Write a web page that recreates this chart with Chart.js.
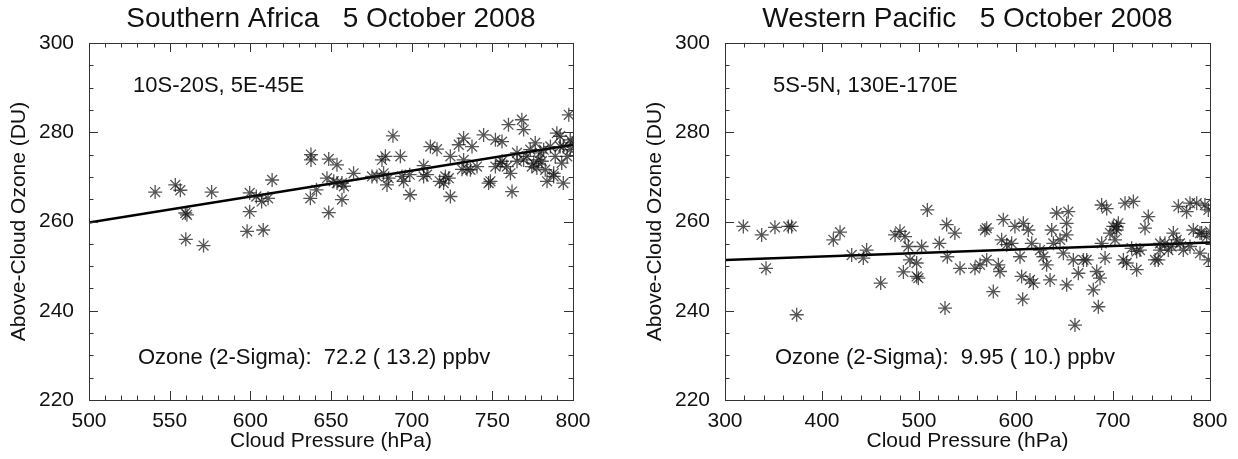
<!DOCTYPE html>
<html>
<head>
<meta charset="utf-8">
<script src="https://cdn.jsdelivr.net/npm/chart.js@4"></script>
<style>
html, body { margin: 0; padding: 0; background: #fff; }
#wrap { position: relative; width: 1238px; height: 459px; }
.box { position: absolute; top: 0; width: 619px; height: 459px; }
#b1 { left: 0; }
#b2 { left: 619px; }
</style>
</head>
<body>
<div id="wrap">
  <div class="box" id="b1"><canvas id="africaChart" width="619" height="459"></canvas></div>
  <div class="box" id="b2"><canvas id="pacificChart" width="619" height="459"></canvas></div>
</div>
<script>
// Southern Africa: cloud pressure (hPa) vs above-cloud ozone (DU)
const africaPressure = [541, 553.5, 556.6, 559.7, 560.7, 560, 571, 576, 599.6, 599.6, 598, 608, 607, 611, 613.5, 603.7,
  637.6, 637.6, 637.2, 641, 648.6, 653.7, 648.6, 647.5, 651.7, 656.8, 658, 656.8, 664, 653.7, 675.4, 681.6, 683.7,
  688.4, 693, 684.7, 694, 695, 699, 698.8, 707.4, 709.5, 711.6, 715.7, 717.4, 720.9, 723, 724, 724, 729.2, 732.2,
  731.2, 734.3, 737.4, 736.4, 744.6, 747.7, 748.8, 751.9, 756, 751.9, 756, 760, 762.2, 761.2, 765.3, 768.3, 769.4,
  771.4, 773.5, 776.6, 777.6, 779.7, 781.8, 783.9, 786, 788, 790, 792, 793, 794, 797.4, 798.3, 798.3, 799.4, 794,
  778.7, 780.7, 754.9, 765.3, 769.4, 774.5, 789, 796.4, 707.4, 682.6, 685.7, 719.8, 740.5, 759, 775.6, 782.8, 788,
  792, 678.5, 732.2];
const africaOzone = [266.6, 268.2, 267.0, 261.9, 261.5, 256.0, 254.6, 266.6, 266.4, 262.2, 257.8, 258.1, 264.5, 265.2,
  269.3, 265.6, 275.0, 273.8, 265.2, 267.1, 274.0, 272.7, 262.0, 269.7, 269.0, 268.6, 267.9, 264.9, 270.8, 268.6,
  270.1, 273.8, 274.6, 279.2, 274.6, 268.2, 270.1, 269.0, 266.0, 270.5, 272.5, 270.5, 276.8, 276.2, 269.0, 270.1,
  269.7, 265.6, 274.6, 277.2, 278.7, 271.7, 271.7, 276.8, 271.6, 279.4, 268.6, 269.0, 278.3, 277.9, 272.3, 273.5,
  281.7, 266.7, 270.8, 273.5, 282.8, 280.6, 274.6, 276.1, 277.6, 272.0, 275.4, 276.1, 269.0, 276.8, 270.8, 279.8,
  279.1, 273.1, 268.6, 283.9, 278.3, 276.1, 277.6, 276.8, 273.8, 273.5, 273.0, 275.4, 273.8, 272.3, 274.6, 274.6,
  270.1, 270.8, 269.7, 268.6, 272.3, 272.3, 273.1, 271.6, 270.1, 276.8, 270.1, 273.8];
const africaFitPressure = [500, 800];
const africaFitOzone = [259.8, 277.2];

// Western Pacific
const pacificPressure = [318.9, 337.8, 342.3, 351.5, 365.3, 368.7, 373.9, 411.7, 418.6, 430.6, 442.6, 446, 460.5,
  475.3, 480.4, 485.6, 483.9, 489, 490.7, 497.6, 499.3, 497.6, 502.7, 508.6, 521, 526.8, 528.5, 529.2, 537, 542.3,
  557.7, 562.9, 568, 569.8, 576.6, 581.8, 583.5, 585.2, 586.9, 590.4, 598.9, 604.1, 605.8, 606.9, 607.6, 612.7,
  614.4, 617.9, 616.2, 624.7, 628.2, 631.6, 635.1, 636.8, 641.9, 645.4, 648.8, 652.2, 653.9, 652.2, 652.2, 659.1,
  660.8, 664.3, 672.9, 679.7, 683.2, 686.6, 684.9, 688.3, 693.5, 688.3, 691.8, 700.3, 703.8, 705.5, 702.1, 710.7,
  712.4, 721, 719.2, 724.4, 724.4, 733, 736.4, 743.3, 746.7, 748.5, 753.6, 757, 762.2, 767.4, 765.6, 769.1, 772.5,
  775.9, 779.4, 782.8, 786.3, 789.7, 791.4, 794.8, 796.6, 798.3, 798.3, 800, 703.8, 714.1, 779.4, 748.5, 638.5,
  595.5, 569.8, 669.5, 789.7, 760.4, 727.8, 696.9];
const pacificOzone = [258.9, 257.0, 249.5, 258.7, 258.9, 258.9, 239.1, 255.9, 257.6, 252.5, 251.8, 253.6, 246.2,
  257.0, 257.8, 256.6, 248.7, 254.4, 251.4, 250.7, 247.3, 247.7, 254.4, 262.6, 255.1, 240.6, 259.3, 252.1, 257.4,
  249.5, 249.5, 250.3, 258.1, 251.4, 244.3, 250.3, 248.8, 255.9, 260.4, 254.8, 258.9, 252.1, 247.7, 242.6, 259.6,
  258.1, 246.9, 246.2, 255.1, 253.6, 252.1, 250.3, 246.9, 258.1, 261.9, 255.9, 252.9, 259.6, 262.2, 257.0, 245.8,
  251.4, 236.8, 248.4, 251.4, 244.7, 248.8, 247.3, 240.9, 263.7, 262.9, 255.1, 251.8, 258.9, 258.1, 259.6, 255.9,
  251.4, 264.1, 264.5, 254.0, 253.3, 249.2, 258.5, 261.1, 251.4, 251.4, 253.6, 255.1, 253.6, 257.4, 263.4, 255.9,
  255.1, 253.6, 262.2, 264.1, 258.1, 264.1, 252.9, 257.4, 263.7, 256.6, 251.4, 262.6, 257.8, 258.9, 250.7, 254.4,
  255.1, 255.1, 255.1, 258.5, 251.4, 257.4, 254.4, 253.6, 257.4];
const pacificFitPressure = [300, 800];
const pacificFitOzone = [251.4, 255.3];

const FONT = "'Liberation Sans', Arial, Helvetica, sans-serif";

// frame, inward ticks on all four sides, and the panel texts
const frameTicks = {
  id: "frameTicks",
  afterDatasetsDraw(chart, args, opts) {
    const { ctx, chartArea: a, scales: { x, y } } = chart;
    ctx.save();
    ctx.strokeStyle = "#333";
    ctx.lineWidth = 1;
    ctx.strokeRect(Math.round(a.left) + 0.5, Math.round(a.top) + 0.5,
      Math.round(a.right - a.left), Math.round(a.bottom - a.top));
    ctx.beginPath();
    for (let v = x.min; v <= x.max + 1e-6; v += opts.xMinor) {
      const px = Math.round(x.getPixelForValue(v)) + 0.5;
      const len = Math.abs((v - x.min) % opts.xMajor) < 1e-6 ? 9 : 4.5;
      ctx.moveTo(px, a.bottom); ctx.lineTo(px, a.bottom - len);
      ctx.moveTo(px, a.top); ctx.lineTo(px, a.top + len);
    }
    for (let v = y.min; v <= y.max + 1e-6; v += opts.yMinor) {
      const py = Math.round(y.getPixelForValue(v)) + 0.5;
      const len = Math.abs((v - y.min) % opts.yMajor) < 1e-6 ? 9 : 4.5;
      ctx.moveTo(a.left, py); ctx.lineTo(a.left + len, py);
      ctx.moveTo(a.right, py); ctx.lineTo(a.right - len, py);
    }
    ctx.stroke();

    ctx.fillStyle = "#111";
    ctx.textBaseline = "middle";
    ctx.textAlign = "center";
    ctx.font = "28px " + FONT;
    ctx.fillText(opts.title, (a.left + a.right) / 2, 19);
    ctx.textAlign = "left";
    ctx.font = "22px " + FONT;
    ctx.fillText(opts.region, a.left + opts.regionDx, 86);
    ctx.fillText(opts.sigma, a.left + opts.sigmaDx, 358);
    ctx.restore();
  }
};

function makeChart(id, px, oz, fitX, fitY, xMin, xMax, xStep, xMinor, pad, texts) {
  const scatterPts = px.map((p, i) => ({ x: p, y: oz[i] }));
  const fitPts = fitX.map((p, i) => ({ x: p, y: fitY[i] }));
  const tickFont = { family: FONT, size: 21 };
  return new Chart(document.getElementById(id), {
    type: "scatter",
    data: {
      datasets: [
        {
          data: scatterPts,
          pointStyle: "star",
          pointRadius: 7,
          borderColor: "rgba(20,20,20,0.72)",
          backgroundColor: "rgba(20,20,20,0.72)",
          borderWidth: 1.3,
        },
        {
          type: "line",
          data: fitPts,
          borderColor: "#000",
          borderWidth: 2.5,
          pointRadius: 0,
          fill: false,
        },
      ],
    },
    options: {
      responsive: false,
      animation: false,
      layout: { padding: pad },
      plugins: {
        legend: { display: false },
        tooltip: { enabled: false },
        frameTicks: Object.assign({ xMajor: xStep, xMinor: xMinor, yMajor: 20, yMinor: 5 }, texts),
      },
      scales: {
        x: {
          type: "linear",
          min: xMin,
          max: xMax,
          grid: { display: false },
          border: { display: false },
          ticks: { stepSize: xStep, font: tickFont, color: "#111", padding: 1, maxRotation: 0 },
          title: { display: true, text: "Cloud Pressure (hPa)", font: tickFont, color: "#111", padding: { top: 0, bottom: 5 } },
          afterFit: (s) => { s.height = 59; },
        },
        y: {
          min: 220,
          max: 300,
          grid: { display: false },
          border: { display: false },
          ticks: { stepSize: 20, font: tickFont, color: "#111", padding: 7 },
          title: { display: true, text: "Above-Cloud Ozone (DU)", font: tickFont, color: "#111", padding: { top: 7, bottom: 0 } },
          afterFit: (s) => { s.width = 89; },
        },
      },
    },
    plugins: [frameTicks],
  });
}

makeChart("africaChart", africaPressure, africaOzone, africaFitPressure, africaFitOzone,
  500, 800, 50, 10, { top: 43, right: 46, left: 0, bottom: 0 },
  { title: "Southern Africa   5 October 2008", region: "10S-20S, 5E-45E", regionDx: 44,
    sigma: "Ozone (2-Sigma):  72.2 ( 13.2) ppbv", sigmaDx: 49 });

makeChart("pacificChart", pacificPressure, pacificOzone, pacificFitPressure, pacificFitOzone,
  300, 800, 100, 20, { top: 43, right: 28, left: 17, bottom: 0 },
  { title: "Western Pacific   5 October 2008", region: "5S-5N, 130E-170E", regionDx: 48,
    sigma: "Ozone (2-Sigma):  9.95 ( 10.) ppbv", sigmaDx: 50 });
</script>
</body>
</html>
